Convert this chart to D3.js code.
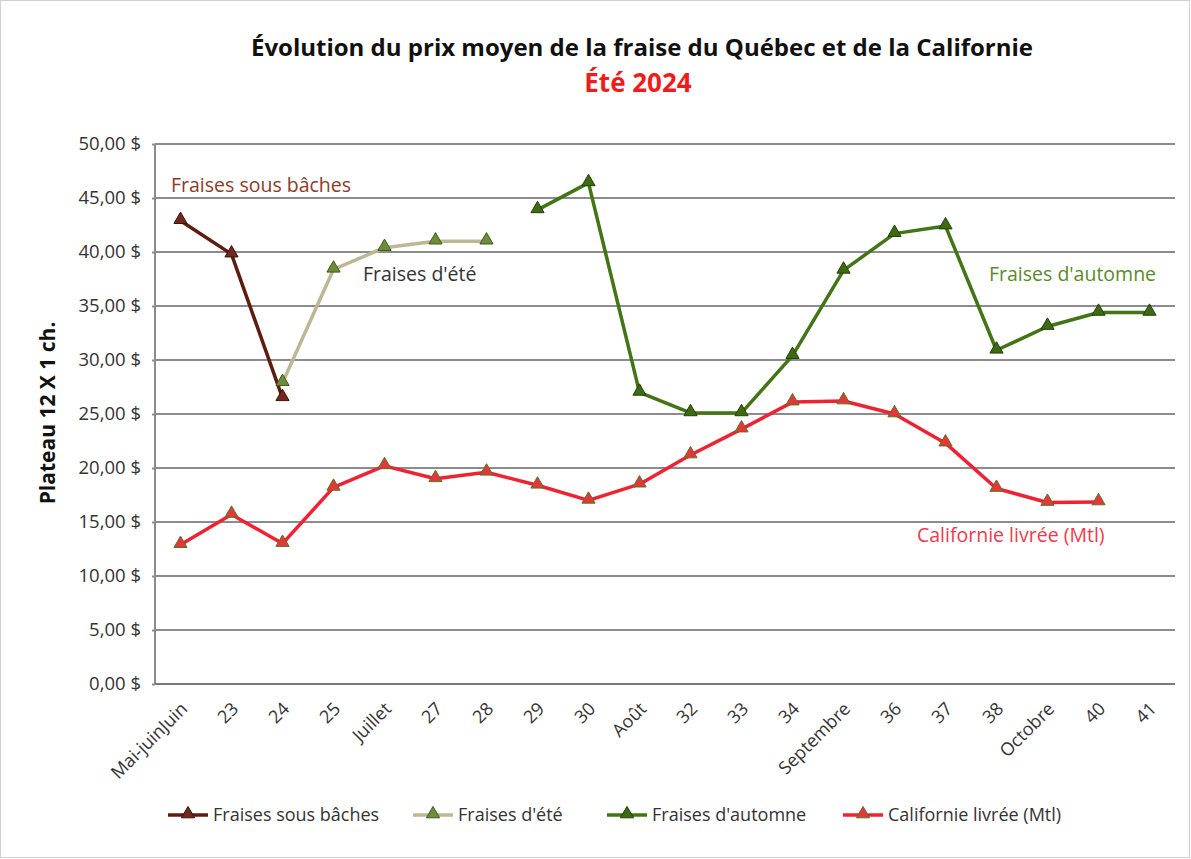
<!DOCTYPE html>
<html><head><meta charset="utf-8">
<script src="https://cdn.jsdelivr.net/npm/d3@7"></script>
<style>body{margin:0;background:#fff;} svg{display:block;font-family:"Open Sans","Liberation Sans",sans-serif;}</style>
</head><body>
<svg id="c" width="1191" height="859"></svg>
<script>
const categories = ["Mai-juinJuin","23","24","25","Juillet","27","28","29","30","Août","32","33","34","Septembre","36","37","38","Octobre","40","41"];
const sousBaches = [42.9, 39.8, 26.5, null, null, null, null, null, null, null, null, null, null, null, null, null, null, null, null, null];
const ete = [null, null, 27.9, 38.4, 40.4, 41.0, 41.0, null, null, null, null, null, null, null, null, null, null, null, null, null];
const automne = [null, null, null, null, null, null, null, 43.9, 46.4, 27.0, 25.1, 25.1, 30.4, 38.3, 41.7, 42.4, 30.9, 33.1, 34.4, 34.4];
const californie = [12.9, 15.7, 13.0, 18.2, 20.2, 19.0, 19.6, 18.4, 17.0, 18.5, 21.2, 23.6, 26.1, 26.2, 25.0, 22.3, 18.1, 16.8, 16.85, null];
const yTicks = [0,5,10,15,20,25,30,35,40,45,50];
const seriesNames = ["Fraises sous bâches","Fraises d'été","Fraises d'automne","Californie livrée (Mtl)"];

const series = [
  {name: seriesNames[0], values: sousBaches, line:"#5e1c0f", mfill:"#6e2a1c", mstroke:"#3e1008"},
  {name: seriesNames[1], values: ete, line:"#bcb894", mfill:"#6f8c3c", mstroke:"#3f5a1a"},
  {name: seriesNames[2], values: automne, line:"#437415", mfill:"#3e6b12", mstroke:"#223f06"},
  {name: seriesNames[3], values: californie, line:"#ef2234", mfill:"#e8353c", mstroke:"#4c7a20"}
];

const FONT = "'Open Sans','Liberation Sans',sans-serif";
const svg = d3.select("#c");
svg.append("rect").attr("x",0.5).attr("y",0.5).attr("width",1189).attr("height",857).attr("fill","#fff").attr("stroke","#d0d0d0");

const x = d3.scaleBand().domain(categories).range([155,1175]);
const y = d3.scaleLinear().domain([0,50]).range([684,144]);
const cx = c => x(c) + x.bandwidth()/2;

// gridlines
svg.append("g").selectAll("line").data(yTicks.filter(d=>d>0)).join("line")
  .attr("x1",155).attr("x2",1175).attr("y1",d=>y(d)).attr("y2",d=>y(d))
  .attr("stroke","#8c8c8c").attr("stroke-width",2);

// y axis
const yAxis = d3.axisLeft(y).tickValues(yTicks).tickSize(3).tickPadding(11)
  .tickFormat(d => d3.format(".2f")(d).replace(".",",") + " $");
const gy = svg.append("g").attr("transform","translate(155,0)").call(yAxis).attr("font-family",FONT);
gy.select(".domain").attr("stroke","#8c8c8c").attr("stroke-width",2).attr("d","M0,144V684");
gy.selectAll(".tick line").attr("stroke","#8c8c8c").attr("stroke-width",2);
gy.selectAll("text").attr("font-size",18.5).attr("fill","#333");

// x axis
const xAxis = d3.axisBottom(x).tickSize(0).tickPadding(0);
const gx = svg.append("g").attr("transform","translate(0,684)").call(xAxis).attr("font-family",FONT);
gx.select(".domain").attr("stroke","#7a7a7a").attr("stroke-width",2).attr("d","M155,0H1175");
gx.selectAll(".tick line").remove();
gx.selectAll(".tick text").attr("font-size",18).attr("fill","#333")
  .attr("text-anchor","end").attr("dy",0).attr("y",0)
  .attr("transform","translate(8,26) rotate(-45)");

// lines
const line = d3.line().defined(d=>d.v!=null).x(d=>cx(d.c)).y(d=>y(d.v));
const tri = d3.symbol().type(d3.symbolTriangle).size(75);
series.forEach(s=>{
  const data = categories.map((c,i)=>({c, v:s.values[i]}));
  svg.append("path").datum(data).attr("d",line).attr("fill","none")
    .attr("stroke",s.line).attr("stroke-width",3.5).attr("stroke-linejoin","round");
  svg.append("g").selectAll("path").data(data.filter(d=>d.v!=null)).join("path")
    .attr("d",tri).attr("transform",d=>`translate(${cx(d.c)},${y(d.v)-1})`)
    .attr("fill",s.mfill).attr("stroke",s.mstroke).attr("stroke-width",1);
});

// annotations
const ann = svg.append("g").attr("font-size",19.5);
ann.append("text").attr("x",171).attr("y",192).attr("fill","#8e3a28").text("Fraises sous bâches");
ann.append("text").attr("x",363).attr("y",281).attr("fill","#333").text("Fraises d'été");
ann.append("text").attr("x",989).attr("y",281).attr("fill","#5b8a2a").text("Fraises d'automne");
ann.append("text").attr("x",917).attr("y",542).attr("fill","#f03a4c").text("Californie livrée (Mtl)");

// titles
svg.append("text").attr("x",642).attr("y",56).attr("text-anchor","middle").attr("font-size",24)
  .attr("font-weight","bold").attr("fill","#111").text("Évolution du prix moyen de la fraise du Québec et de la Californie");
svg.append("text").attr("x",638).attr("y",92).attr("text-anchor","middle").attr("font-size",26)
  .attr("font-weight","bold").attr("fill","#f01c1c").text("Été 2024");

// y label
svg.append("text").attr("transform","translate(55,413) rotate(-90)").attr("text-anchor","middle")
  .attr("font-size",21).attr("font-weight","bold").attr("fill","#111").text("Plateau 12 X 1 ch.");

// legend
const legX = [168, 413, 607, 843];
const lg = svg.append("g");
series.forEach((s,i)=>{
  const g = lg.append("g").attr("transform",`translate(${legX[i]},815)`);
  g.append("line").attr("x1",0).attr("x2",40).attr("stroke",s.line).attr("stroke-width",3.5);
  g.append("path").attr("d",tri).attr("transform","translate(20,-1)").attr("fill",s.mfill).attr("stroke",s.mstroke);
  g.append("text").attr("x",45).attr("y",6).attr("font-size",18).attr("fill","#333").text(s.name);
});
</script>
</body></html>
